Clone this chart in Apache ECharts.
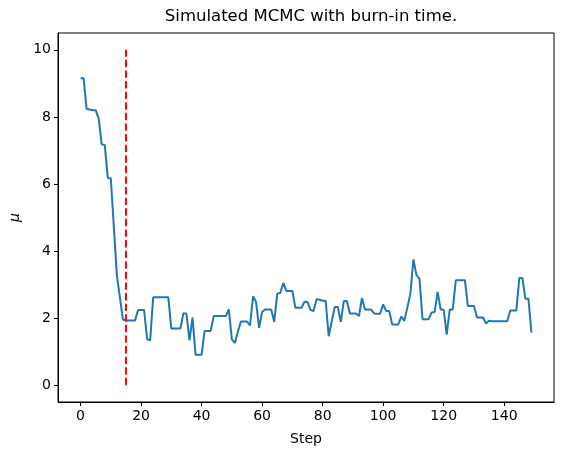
<!DOCTYPE html>
<html>
<head>
<meta charset="utf-8">
<script src="https://cdn.jsdelivr.net/npm/echarts@6/dist/echarts.min.js"></script>
<style>
  html, body { margin: 0; padding: 0; background: #fff; }
  #chart { width: 563px; height: 455px; }
</style>
</head>
<body>
<div id="chart"></div>
<script>
// 每一步的 mu 采样值
var muTrace = [
  9.15, 9.15, 8.24, 8.22, 8.20, 8.20, 7.95, 7.18, 7.16, 6.18,
  6.17, 4.72, 3.28, 2.62, 1.96, 1.93, 1.93, 1.93, 1.93, 2.24,
  2.24, 2.24, 1.37, 1.34, 2.62, 2.62, 2.62, 2.62, 2.62, 2.62,
  1.69, 1.69, 1.69, 1.69, 2.15, 2.13, 1.34, 2.02, 0.91, 0.91,
  0.91, 1.62, 1.62, 1.62, 2.06, 2.06, 2.06, 2.06, 2.06, 2.26,
  1.37, 1.26, 1.60, 1.90, 1.90, 1.90, 1.78, 2.65, 2.48, 1.71,
  2.18, 2.26, 2.26, 2.26, 1.89, 2.73, 2.75, 3.05, 2.81, 2.81,
  2.81, 2.31, 2.31, 2.31, 2.49, 2.48, 2.25, 2.21, 2.56, 2.55,
  2.52, 2.52, 1.46, 1.90, 2.33, 2.33, 1.89, 2.51, 2.51, 2.14,
  2.14, 2.14, 2.06, 2.60, 2.26, 2.26, 2.26, 2.14, 2.13, 2.13,
  2.41, 2.21, 2.21, 1.81, 1.81, 1.81, 2.05, 1.92, 2.32, 2.73,
  3.75, 3.28, 3.18, 1.97, 1.97, 1.97, 2.17, 2.18, 2.78, 2.26,
  2.25, 1.51, 2.26, 2.26, 3.13, 3.13, 3.13, 3.13, 2.36, 2.36,
  2.36, 2.02, 2.02, 2.02, 1.84, 1.92, 1.91, 1.91, 1.91, 1.91,
  1.91, 1.91, 2.23, 2.23, 2.23, 3.20, 3.20, 2.58, 2.58, 1.57
];
// burn-in 竖线
var burnIn = 15;
var burnInRange = [0, 10];
var xTicks = [0, 20, 40, 60, 80, 100, 120, 140];
var yTicks = [0, 2, 4, 6, 8, 10];

var traceData = muTrace.map(function (v, i) { return [i, v]; });
var burnData = burnInRange.map(function (v) { return [burnIn, v]; });

var chart = echarts.init(document.getElementById('chart'));
var font = 'DejaVu Sans';
chart.setOption({
  animation: false,
  backgroundColor: '#ffffff',
  title: {
    text: 'Simulated MCMC with burn-in time.',
    left: 306,
    top: 3,
    textAlign: 'center',
    textStyle: { fontFamily: font, fontSize: 16.5, fontWeight: 'normal', color: '#000' }
  },
  grid: {
    left: 58,
    right: 9,
    top: 33,
    bottom: 53,
    show: true,
    borderColor: '#000',
    borderWidth: 1,
    outerBoundsMode: 'none',
    containLabel: false
  },
  xAxis: {
    type: 'value',
    min: -7.45,
    max: 156.45,
    name: 'Step',
    nameLocation: 'middle',
    nameGap: 30,
    nameTextStyle: { fontFamily: font, fontSize: 14, color: '#000' },
    axisLine: { show: true, onZero: false, lineStyle: { color: '#000', width: 1 } },
    axisTick: { show: true, inside: false, length: 4, customValues: xTicks, lineStyle: { color: '#000' } },
    axisLabel: { show: true, margin: 7, customValues: xTicks, fontFamily: font, fontSize: 14, color: '#000' },
    splitLine: { show: false }
  },
  yAxis: {
    type: 'value',
    min: -0.5,
    max: 10.5,
    name: 'μ',
    nameLocation: 'middle',
    nameGap: 36,
    nameRotate: 90,
    nameTextStyle: { fontFamily: font, fontSize: 14, fontStyle: 'italic', color: '#000' },
    axisLine: { show: true, onZero: false, lineStyle: { color: '#000', width: 1 } },
    axisTick: { show: true, inside: false, length: 4, customValues: yTicks, lineStyle: { color: '#000' } },
    axisLabel: { show: true, margin: 7, customValues: yTicks, fontFamily: font, fontSize: 14, color: '#000' },
    splitLine: { show: false }
  },
  series: [{
    name: 'mu',
    type: 'line',
    data: traceData,
    showSymbol: false,
    symbol: 'none',
    lineStyle: { color: '#1f77b4', width: 2 },
    z: 2
  }, {
    name: 'burn-in',
    type: 'line',
    data: burnData,
    showSymbol: false,
    symbol: 'none',
    lineStyle: { color: '#ff0000', width: 2, type: [7.4, 3.2] },
    z: 3
  }]
});
</script>
</body>
</html>
